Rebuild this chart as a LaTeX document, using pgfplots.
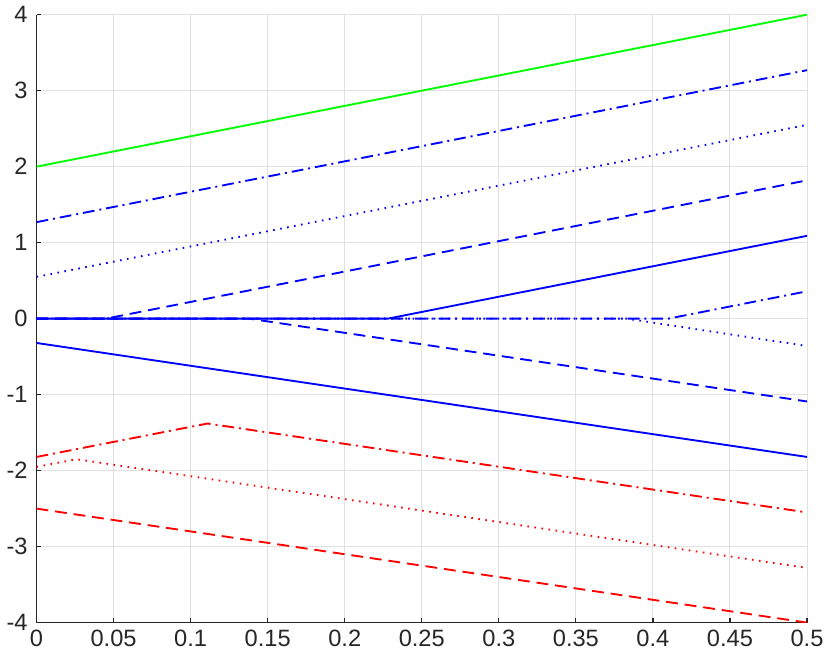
\documentclass[border=0pt]{standalone}
\usepackage{pgfplots}
\pgfplotsset{compat=1.18}
\usepackage{fontspec}
\setmainfont{Liberation Sans}

\definecolor{gridgray}{gray}{0.88}
\definecolor{axgray}{gray}{0.15}

\begin{document}
\begin{tikzpicture}
  \begin{axis}[
      scale only axis,
      width=391pt, height=308.5pt,
      xmin=0, xmax=0.5, ymin=-4, ymax=4,
      axis x line*=bottom, axis y line*=left,
      axis line style={axgray, line width=0.6pt},
      xtick={0,0.05,...,0.5},
      xticklabels={0,0.05,0.1,0.15,0.2,0.25,0.3,0.35,0.4,0.45,0.5},
      ytick={-4,-3,...,4},
      yticklabels={-4,-3,-2,-1,0,1,2,3,4},
      tick align=inside,
      major tick length=2.5pt,
      tick style={axgray, line width=0.6pt},
      grid=major,
      major grid style={gridgray, line width=0.5pt},
      ticklabel style={font=\fontsize{12}{14}\selectfont, text=axgray},
      yticklabel style={xshift=-1pt},
      every axis plot/.append style={line width=0.95pt},
    ]
    % green reference line
    \addplot[color=green] coordinates {(0,2) (0.5,4)};

    % upper blue family
    \addplot[blue, dash pattern=on 6pt off 2.5pt on 1pt off 2.5pt] coordinates {(0,1.27) (0.5,3.27)};
    \addplot[blue, dash pattern=on 0.8pt off 2.8pt] coordinates {(0,0.55) (0.5,2.55)};
    \addplot[blue, dash pattern=on 6pt off 3.5pt] coordinates {(0,0) (0.045,0) (0.5,1.82)};
    \addplot[blue] coordinates {(0,0) (0.228,0) (0.5,1.09)};
    \addplot[blue, dash pattern=on 6pt off 2.5pt on 1pt off 2.5pt] coordinates {(0,0) (0.41,0) (0.5,0.36)};
    \addplot[blue, dash pattern=on 0.8pt off 2.8pt] coordinates {(0,0) (0.383,0) (0.5,-0.36)};
    \addplot[blue, dash pattern=on 6pt off 3.5pt] coordinates {(0,0) (0.138,0) (0.5,-1.09)};
    \addplot[blue] coordinates {(0,-0.32) (0.5,-1.82)};

    % red family
    \addplot[red, dash pattern=on 6pt off 2.5pt on 1pt off 2.5pt] coordinates {(0,-1.82) (0.111,-1.38) (0.5,-2.55)};
    \addplot[red, dash pattern=on 0.8pt off 2.8pt] coordinates {(0,-1.95) (0.026,-1.85) (0.5,-3.28)};
    \addplot[red, dash pattern=on 6pt off 3.5pt] coordinates {(0,-2.5) (0.5,-4)};
  \end{axis}
\end{tikzpicture}
\end{document}
